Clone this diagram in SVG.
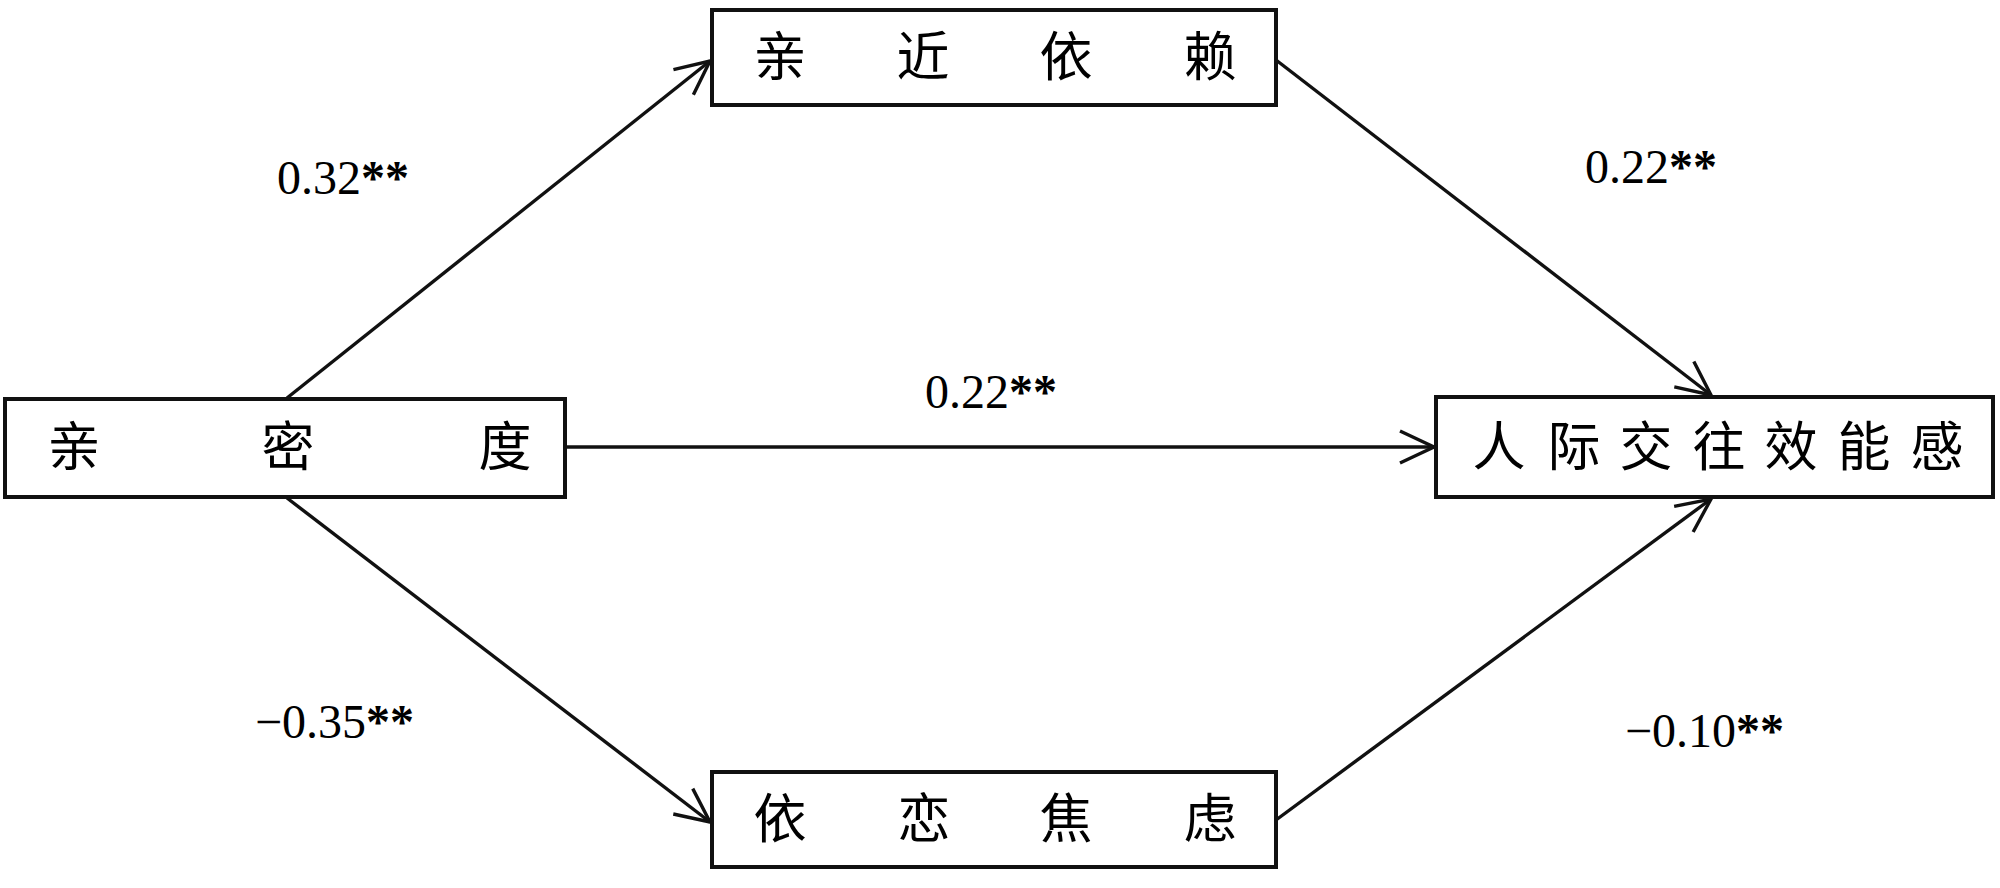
<svg xmlns="http://www.w3.org/2000/svg" width="2000" height="888" viewBox="0 0 2000 888">
<style>
.box{fill:#fff;stroke:#111;stroke-width:4}
.cjk{font-family:"Noto Sans CJK SC","Noto Sans CJK JP",sans-serif;font-size:53px;fill:#000;text-anchor:middle}
.lbl{font-family:"Liberation Serif","Times New Roman",serif;font-size:48px;fill:#000}
.st{font-weight:bold}
.edge{stroke:#111;stroke-width:3.4;fill:none;marker-end:url(#arr)}
</style>
<defs>
<marker id="arr" markerUnits="userSpaceOnUse" markerWidth="44" markerHeight="44" viewBox="-38 -22 44 44" refX="0" refY="0" orient="auto">
<path d="M -34 -16 L 0 0 L -34 16" fill="none" stroke="#111" stroke-width="3.4" stroke-linejoin="miter"/>
</marker>
</defs>
<rect width="2000" height="888" fill="#fff"/>
<g id="connectors">
<line class="edge" x1="287" y1="398" x2="710" y2="61"/>
<line class="edge" x1="287" y1="498" x2="710" y2="822"/>
<line class="edge" x1="565" y1="447" x2="1434" y2="447"/>
<line class="edge" x1="1276" y1="60" x2="1711" y2="395"/>
<line class="edge" x1="1276" y1="820" x2="1711" y2="499"/>
</g>
<g id="labels">
<text class="lbl" x="277" y="194">0.32<tspan class="st">**</tspan></text>
<text class="lbl" x="1585" y="183">0.22<tspan class="st">**</tspan></text>
<text class="lbl" x="925" y="408">0.22<tspan class="st">**</tspan></text>
<text class="lbl" x="255" y="738">−0.35<tspan class="st">**</tspan></text>
<text class="lbl" x="1625" y="747">−0.10<tspan class="st">**</tspan></text>
</g>
<g id="node-qinmidu">
<rect class="box" x="5" y="399" width="560" height="98"/>
<text class="cjk" y="466"><tspan x="74">亲</tspan><tspan x="288">密</tspan><tspan x="505">度</tspan></text>
</g>
<g id="node-qinjinyilai">
<rect class="box" x="712" y="10" width="564" height="95"/>
<text class="cjk" y="76"><tspan x="780">亲</tspan><tspan x="923">近</tspan><tspan x="1066">依</tspan><tspan x="1210">赖</tspan></text>
</g>
<g id="node-yilianjiaolv">
<rect class="box" x="712" y="772" width="564" height="95"/>
<text class="cjk" y="838"><tspan x="780">依</tspan><tspan x="924">恋</tspan><tspan x="1066">焦</tspan><tspan x="1210">虑</tspan></text>
</g>
<g id="node-xiaonenggan">
<rect class="box" x="1436" y="397" width="557" height="100"/>
<text class="cjk" y="466"><tspan x="1499">人</tspan><tspan x="1574">际</tspan><tspan x="1646">交</tspan><tspan x="1719">往</tspan><tspan x="1791">效</tspan><tspan x="1864">能</tspan><tspan x="1937">感</tspan></text>
</g>
</svg>
